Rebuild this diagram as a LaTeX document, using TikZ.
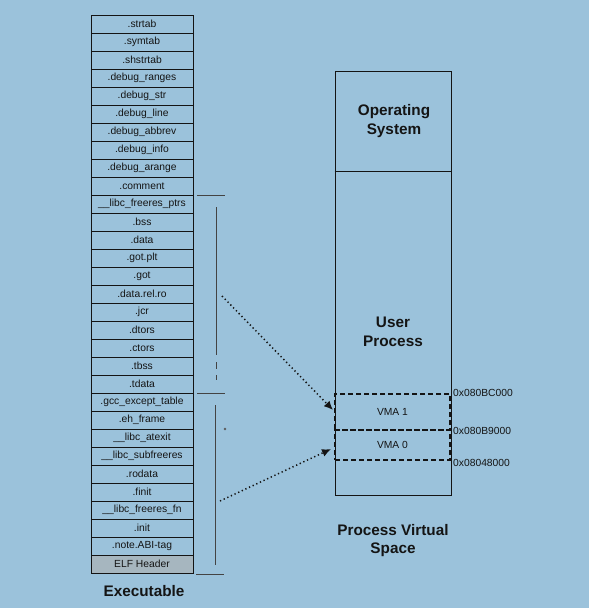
\documentclass[tikz,border=0pt]{standalone}
\usepackage{fontspec}
\setmainfont{Liberation Sans}
\usetikzlibrary{arrows.meta}
\definecolor{bg}{HTML}{9BC2DB}
\definecolor{elf}{HTML}{A6B6BF}
\definecolor{ink}{HTML}{141414}
\begin{document}
\begin{tikzpicture}[x=1pt,y=-1pt,
  sec/.style={draw=ink,line width=0.85pt,minimum width=102pt,minimum height=18pt,inner sep=0pt,
    font=\fontsize{10.3}{12}\selectfont,text=ink},
  vmabox/.style={draw=ink,line width=1.5pt,dash pattern=on 5pt off 3pt,minimum width=115pt,inner sep=0pt,
    font=\fontsize{10.3}{12}\selectfont,text=ink},
  addr/.style={anchor=west,inner sep=0pt,font=\fontsize{10.3}{12}\selectfont,text=ink},
  title/.style={align=center,font=\bfseries\fontsize{15.3}{18.5}\selectfont,text=ink,inner sep=0pt},
  brk/.style={draw=ink!80,line width=0.7pt},
  ptr/.style={draw=ink,line width=1.5pt,dash pattern=on 1.3pt off 2.7pt,-{Latex[length=9pt,width=8pt]}}
]
\fill[bg] (0,0) rectangle (589,608);
\useasboundingbox (0,0) rectangle (589,608);
% ELF header shading
\fill[elf] (91,555) rectangle (193,573);
% section table
\foreach \t [count=\i from 0] in {.strtab,.symtab,.shstrtab,.debug\_ranges,.debug\_str,.debug\_line,
  .debug\_abbrev,.debug\_info,.debug\_arange,.comment,\_\_libc\_freeres\_ptrs,.bss,.data,.got.plt,.got,
  .data.rel.ro,.jcr,.dtors,.ctors,.tbss,.tdata,.gcc\_except\_table,.eh\_frame,\_\_libc\_atexit,
  \_\_libc\_subfreeres,.rodata,.finit,\_\_libc\_freeres\_fn,.init,.note.ABI-tag,ELF Header}
  \node[sec] (s\i) at (142,{15+(\i+0.5)*18}) {\t};
\node[title,anchor=north] (exe) at (144,585) {Executable};
% brackets
\draw[brk] (197,195) -- (225,195);
\draw[brk] (216,207) -- (216,355);
\draw[brk] (216,362) -- (216,369);
\draw[brk] (216,375) -- (216,380);
\draw[brk] (197,393) -- (225,393);
\draw[brk] (215,405) -- (215,565);
\draw[brk] (196,574) -- (224,574);
\fill[ink!70] (225,429) circle (1.4pt);
% process address space
\node[draw=ink,line width=0.85pt,minimum width=116pt,minimum height=424pt,inner sep=0pt] (proc) at (393,283) {};
\draw[ink,line width=0.85pt] (proc.west |- 0,171) -- (proc.east |- 0,171);
\node[title] (os) at (394,121) {Operating\\System};
\node[title] (up) at (393,332) {User\\Process};
\node[vmabox,minimum height=36pt] (vma1) at (392.5,412) {VMA 1};
\node[vmabox,minimum height=30pt] (vma0) at (392.5,445) {VMA 0};
\node[addr] (a1) at (453,393) {0x080BC000};
\node[addr] (a2) at (453,431) {0x080B9000};
\node[addr] (a3) at (453,463) {0x08048000};
\node[title,anchor=north] (pvs) at (393,524) {Process Virtual\\Space};
% pointers
\coordinate (p1) at (222,296);
\coordinate (p0) at (220,501);
\coordinate (t1) at (333,410);
\coordinate (t0) at (331,449);
\draw[ptr] (p1) -- (t1);
\draw[ptr] (p0) -- (t0);
\end{tikzpicture}
\end{document}
